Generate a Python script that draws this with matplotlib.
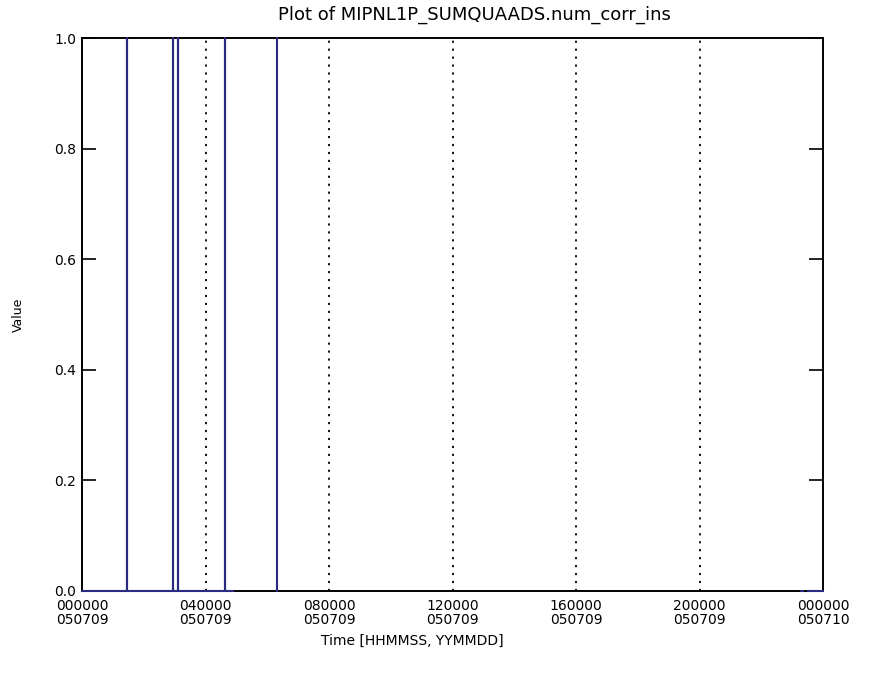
import numpy as np
import matplotlib
matplotlib.use('Agg')
import matplotlib.pyplot as plt

nan = np.nan

# time in hours since 000000 on 050709, values of num_corr_ins (nan = data gap)
time_hours = [0.00, 1.46, 1.46, 1.46, 2.96, 2.96, 2.96, 3.11, 3.11, 3.11,
              4.63, 4.63, 4.63, 4.89, nan,
              6.31, 6.32, 6.32, nan,
              23.30, 23.34, nan,
              23.50, 24.00]
values = [0, 0, 1, 0, 0, 1, 0, 0, 1, 0,
          0, 1, 0, 0, nan,
          0, 0, 1, nan,
          0, 0, nan,
          0, 0]

xtick_hours = [0, 4, 8, 12, 16, 20, 24]
xtick_labels = ['000000\n050709', '040000\n050709', '080000\n050709',
                '120000\n050709', '160000\n050709', '200000\n050709',
                '000000\n050710']
ytick_vals = [0.0, 0.2, 0.4, 0.6, 0.8, 1.0]

W, H = 873, 675
fig = plt.figure(figsize=(W / 100, H / 100), dpi=100)
ax = fig.add_axes([82 / W, 1 - 591 / H, (823 - 82) / W, (591 - 38) / H])

# dotted grid lines at interior x ticks
for h in xtick_hours[1:-1]:
    ax.axvline(h, color='black', lw=1.3, linestyle=(0, (1.2, 3.2)), zorder=1)

ax.plot(time_hours, values, color='#2a2a80', lw=1.5, zorder=3, clip_on=False)

ax.set_xlim(0, 24)
ax.set_ylim(0, 1)
ax.set_xticks(xtick_hours)
ax.set_xticklabels(xtick_labels, fontsize=10, linespacing=0.95)
ax.set_yticks(ytick_vals)
ax.set_yticklabels(['%.1f' % v for v in ytick_vals], fontsize=10)
ax.tick_params(axis='x', length=0, pad=6)
ax.tick_params(axis='y', direction='in', length=10, width=1.2, left=True, right=True, pad=4)
for s in ax.spines.values():
    s.set_linewidth(1.4)
    s.set_zorder(2)

fig.text(474 / W, 1 - 15 / H, 'Plot of MIPNL1P_SUMQUAADS.num_corr_ins',
         ha='center', va='center', fontsize=13)
fig.text(412 / W, 1 - 641 / H, 'Time [HHMMSS, YYMMDD]',
         ha='center', va='center', fontsize=10)
fig.text(18 / W, 1 - 315 / H, 'Value', rotation=90,
         ha='center', va='center', fontsize=9)

fig.savefig('out.png', dpi=100)
